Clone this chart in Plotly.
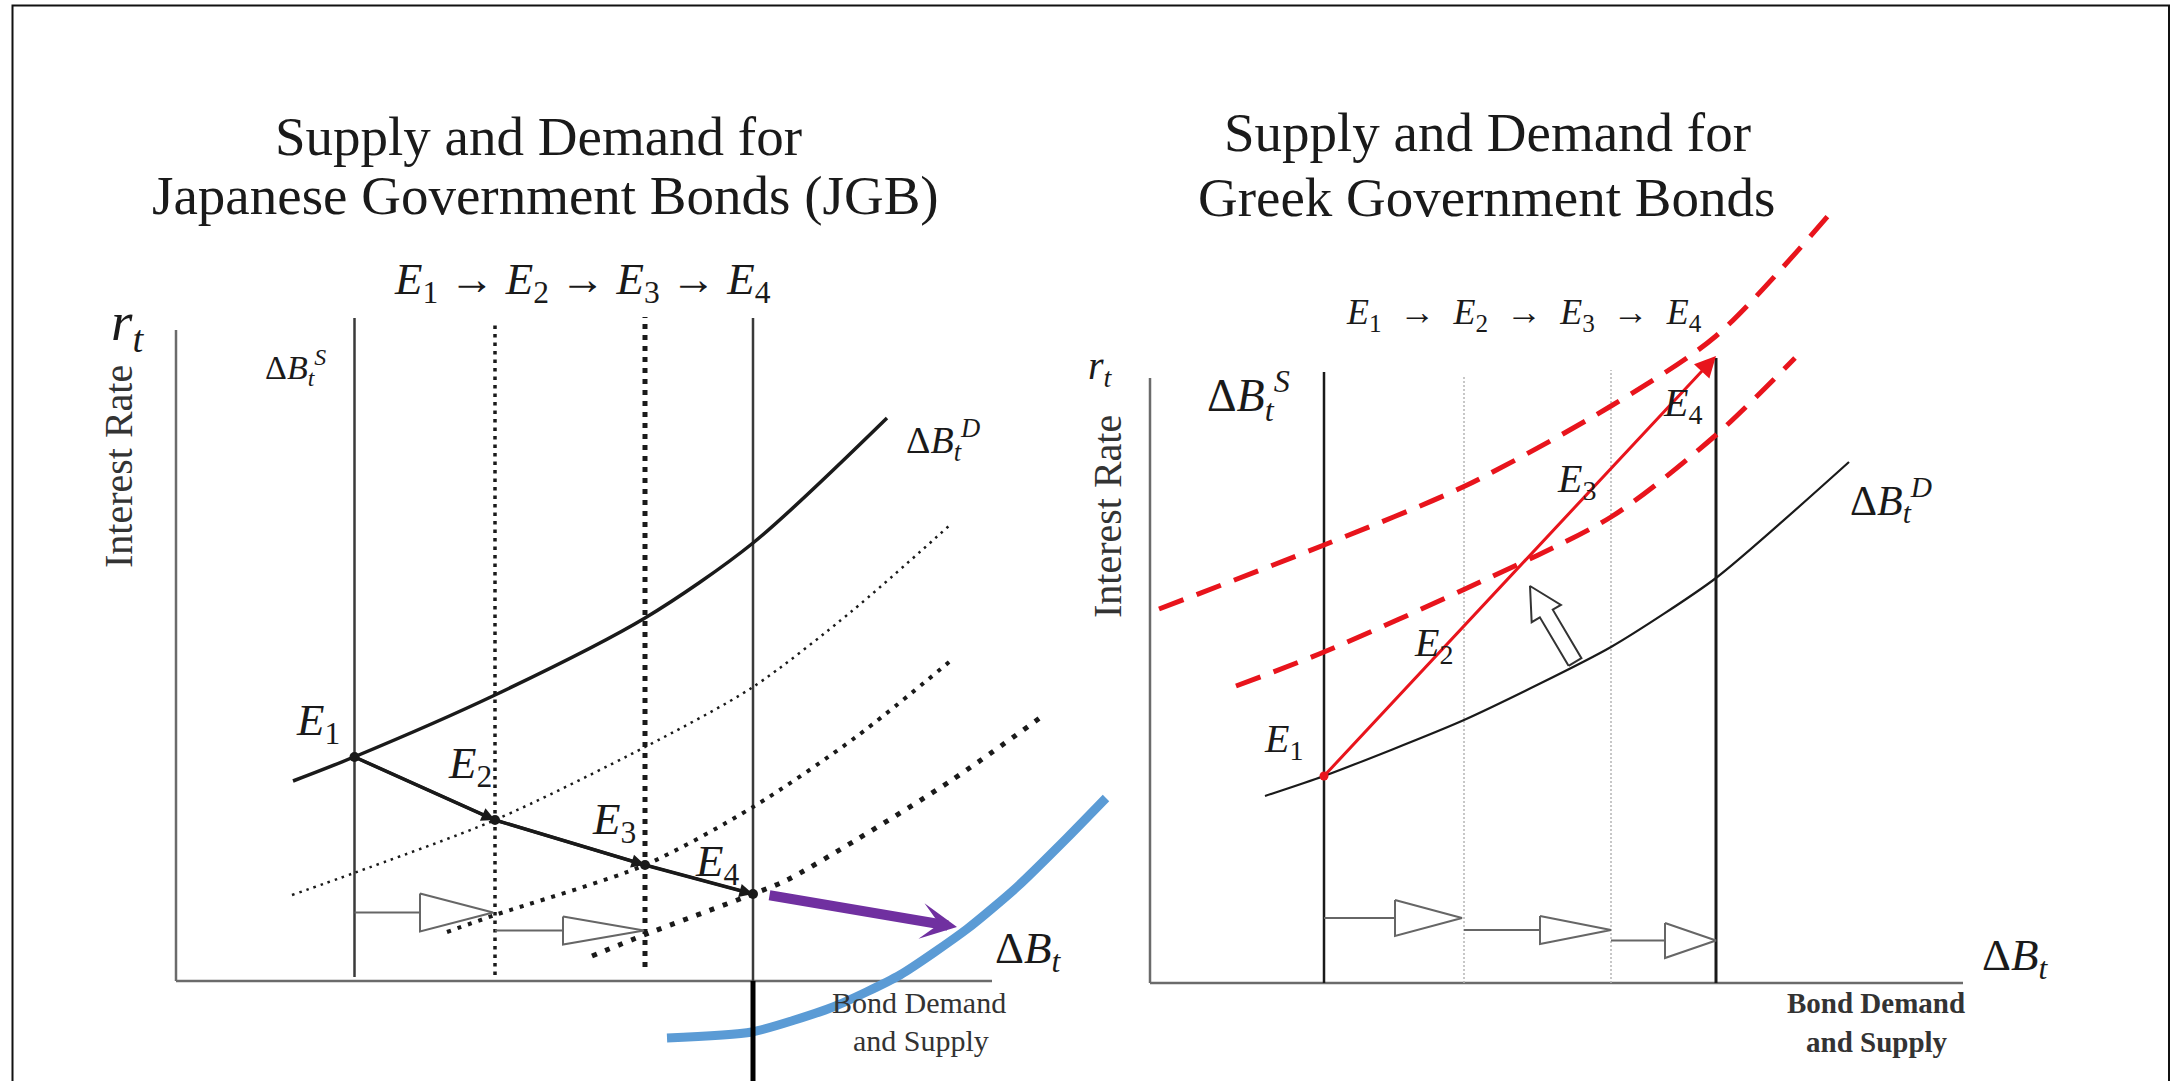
import numpy as np
import plotly.graph_objects as go

W, H = 2173, 1081
L_DOMAIN_PX = (0, 1120)     # pixel span of left panel's plotting area
R_DOMAIN_PX = (1060, 2173)  # pixel span of right panel's plotting area
PX_PER_UNIT = 100.0
L_ORIGIN_PX = (176, 981)    # axis corner of left panel (pixels)
R_ORIGIN_PX = (1150, 983)   # axis corner of right panel (pixels)

# ---------------- Left panel: Japanese Government Bonds ----------------
L_AXIS_Y_TOP = 6.51
L_AXIS_X_END = 8.16
L_SUPPLY_X = [1.785, 3.19, 4.69, 5.77]
L_SUPPLY_TOP = [6.63, 6.58, 6.64, 6.63]
L_SUPPLY_BOTTOM = [0.04, 0.06, 0.14, 0.0]
L_D1_X = [1.17, 1.78, 3.19, 4.69, 5.77, 7.11]
L_D1_Y = [2.00, 2.24, 2.86, 3.63, 4.38, 5.63]
L_D2_X = [1.16, 1.78, 3.19, 4.69, 5.77, 6.76, 7.74]
L_D2_Y = [0.86, 1.08, 1.61, 2.34, 2.94, 3.70, 4.56]
L_D3_X = [2.71, 3.19, 4.69, 5.77, 6.80, 7.78]
L_D3_Y = [0.49, 0.66, 1.16, 1.74, 2.44, 3.23]
L_D4_X = [4.16, 4.68, 5.77, 6.11, 6.80, 7.76, 8.68]
L_D4_Y = [0.25, 0.46, 0.87, 1.01, 1.41, 2.01, 2.66]
L_EQ_X = [1.785, 3.19, 4.69, 5.77]
L_EQ_Y = [2.24, 1.61, 1.16, 0.87]
L_SHIFT_FROM = [1.785, 3.19]
L_SHIFT_TO = [3.17, 4.68]
L_SHIFT_Y = [0.685, 0.505]
L_PURPLE_FROM = [5.92, 0.86]
L_PURPLE_TO = [7.81, 0.54]
L_ARC_X = [4.91, 5.76, 6.57, 7.24, 7.91, 8.41, 8.91, 9.30]
L_ARC_Y = [-0.57, -0.51, -0.26, 0.06, 0.52, 0.94, 1.43, 1.83]
L_MARK_X = [5.77, 5.77]
L_MARK_Y = [0.0, -1.0]

# ---------------- Right panel: Greek Government Bonds ----------------
R_AXIS_Y_TOP = 6.05
R_AXIS_X_END = 8.13
R_SUPPLY_X = [1.74, 3.14, 4.61, 5.66]
R_SUPPLY_TOP = [6.11, 6.06, 6.13, 6.25]
R_D_X = [1.15, 1.74, 3.14, 4.61, 5.66, 6.99]
R_D_Y = [1.87, 2.07, 2.63, 3.36, 4.05, 5.21]
R_DU_X = [0.09, 1.74, 3.15, 4.61, 5.66, 6.78]
R_DU_Y = [3.74, 4.38, 4.97, 5.77, 6.47, 7.67]
R_DM_X = [0.86, 1.74, 3.15, 4.61, 5.66, 6.45]
R_DM_Y = [2.97, 3.31, 3.94, 4.66, 5.48, 6.25]
R_PATH_FROM = [1.74, 2.07]
R_PATH_TO = [5.66, 6.27]
R_SHIFT_FROM = [1.74, 3.14, 4.61]
R_SHIFT_TO = [3.12, 4.61, 5.66]
R_SHIFT_Y = [0.65, 0.53, 0.425]
R_UP_FROM = [4.25, 3.21]
R_UP_TO = [3.80, 3.97]

# style constants for arrow heads (length, half width)
L_HEADS = [(0.73, 0.19), (0.81, 0.14)]
R_HEADS = [(0.67, 0.18), (0.71, 0.14), (0.51, 0.175)]

FONT = "Liberation Serif, Times New Roman, serif"
INK = "#1a1a1a"

fig = go.Figure()


def refs(panel):
    return ("x", "y") if panel == "L" else ("x2", "y2")


def line(xs, ys, panel, color=INK, width=2, dash="solid", shape="linear", mode="lines",
         marker=None, smoothing=0.8):
    ax, ay = refs(panel)
    kw = dict(x=xs, y=ys, xaxis=ax, yaxis=ay, mode=mode, hoverinfo="skip",
              line=dict(color=color, width=width, dash=dash, shape=shape, smoothing=smoothing))
    if marker:
        kw["marker"] = marker
    fig.add_trace(go.Scatter(**kw))


def hollow_h_arrow(x0, x1, y, head, panel, color="#666666"):
    hl, hw = head
    line([x0, x1 - hl], [y, y], panel, color=color, width=2)
    line([x1 - hl, x1, x1 - hl, x1 - hl], [y + hw, y, y - hw, y + hw], panel, color=color, width=2)


def block_arrow(p0, p1, panel, shaft=0.075, headw=0.17, headl=0.32):
    p0 = np.array(p0, float)
    p1 = np.array(p1, float)
    d = p1 - p0
    d = d / np.linalg.norm(d)
    n = np.array([-d[1], d[0]])
    b = p1 - d * headl
    pts = [p0 + n * shaft, b + n * shaft, b + n * headw, p1,
           b - n * headw, b - n * shaft, p0 - n * shaft, p0 + n * shaft]
    ax, ay = refs(panel)
    fig.add_trace(go.Scatter(x=[p[0] for p in pts], y=[p[1] for p in pts], xaxis=ax, yaxis=ay,
                             mode="lines", fill="toself", fillcolor="white",
                             line=dict(color="#333333", width=2), hoverinfo="skip"))


# ---- left panel ----
line([0, 0], [0, L_AXIS_Y_TOP], "L", color="#6b6b6b", width=2.5)
line([0, L_AXIS_X_END], [0, 0], "L", color="#6b6b6b", width=2.5)
line([L_SUPPLY_X[0]] * 2, [L_SUPPLY_BOTTOM[0], L_SUPPLY_TOP[0]], "L", color="#3a3a3a", width=2.5)
line([L_SUPPLY_X[1]] * 2, [L_SUPPLY_BOTTOM[1], L_SUPPLY_TOP[1]], "L", color=INK, width=3.5, dash="3.5px,5px")
line([L_SUPPLY_X[2]] * 2, [L_SUPPLY_BOTTOM[2], L_SUPPLY_TOP[2]], "L", color=INK, width=5, dash="5px,6px")
line([L_SUPPLY_X[3]] * 2, [L_SUPPLY_BOTTOM[3], L_SUPPLY_TOP[3]], "L", color="#3a3a3a", width=2.5)
line(L_D1_X, L_D1_Y, "L", width=3.5, shape="spline")
line(L_D2_X, L_D2_Y, "L", width=2.5, dash="2.5px,5px", shape="spline")
line(L_D3_X, L_D3_Y, "L", width=4, dash="4px,7px", shape="spline")
line(L_D4_X, L_D4_Y, "L", width=5, dash="5px,9px", shape="spline")
line(L_EQ_X, L_EQ_Y, "L", width=3.5, mode="lines+markers", marker=dict(size=10, color=INK))
for i in range(2):
    hollow_h_arrow(L_SHIFT_FROM[i], L_SHIFT_TO[i], L_SHIFT_Y[i], L_HEADS[i], "L")
line(L_ARC_X, L_ARC_Y, "L", color="#5b9bd5", width=9, shape="spline", smoothing=0.6)
line(L_MARK_X, L_MARK_Y, "L", color="#000000", width=5)

# ---- right panel ----
line([0, 0], [0, R_AXIS_Y_TOP], "R", color="#6b6b6b", width=2.5)
line([0, R_AXIS_X_END], [0, 0], "R", color="#6b6b6b", width=2.5)
line([R_SUPPLY_X[0]] * 2, [0, R_SUPPLY_TOP[0]], "R", color=INK, width=2.5)
line([R_SUPPLY_X[1]] * 2, [0, R_SUPPLY_TOP[1]], "R", color="#b5b5b5", width=1.5, dash="2px,2px")
line([R_SUPPLY_X[2]] * 2, [0, R_SUPPLY_TOP[2]], "R", color="#b5b5b5", width=1.5, dash="2px,2px")
line([R_SUPPLY_X[3]] * 2, [0, R_SUPPLY_TOP[3]], "R", color=INK, width=3)
line(R_D_X, R_D_Y, "R", width=2.2, shape="spline", smoothing=0.6)
line(R_DU_X, R_DU_Y, "R", color="#e8141c", width=5, dash="26px,14px", shape="spline")
line(R_DM_X, R_DM_Y, "R", color="#e8141c", width=5, dash="26px,14px", shape="spline")
for i in range(3):
    hollow_h_arrow(R_SHIFT_FROM[i], R_SHIFT_TO[i], R_SHIFT_Y[i], R_HEADS[i], "R")
block_arrow(R_UP_FROM, R_UP_TO, "R")
line([R_PATH_FROM[0]], [R_PATH_FROM[1]], "R", mode="markers", marker=dict(size=9, color="#e8141c"))

annotations = []


def arrow(p_from, p_to, panel, color, width, head, size):
    xr, yr = refs(panel)
    annotations.append(dict(x=p_to[0], y=p_to[1], ax=p_from[0], ay=p_from[1], xref=xr, yref=yr,
                            axref=xr, ayref=yr, text="", showarrow=True, arrowhead=head,
                            arrowsize=size, arrowwidth=width, arrowcolor=color, standoff=0,
                            startstandoff=0))


arrow(L_PURPLE_FROM, L_PURPLE_TO, "L", "#7030a0", 10, 3, 0.6)
arrow(R_PATH_FROM, R_PATH_TO, "R", "#e8141c", 3, 2, 1.4)
for i in range(1, 4):
    arrow([L_EQ_X[i - 1], L_EQ_Y[i - 1]], [L_EQ_X[i], L_EQ_Y[i]], "L", INK, 3, 2, 0.9)


def text(panel, x, y, s, size, xanchor="center", angle=0, color=INK):
    xr, yr = refs(panel)
    annotations.append(dict(x=x, y=y, xref=xr, yref=yr, text=s, showarrow=False,
                            xanchor=xanchor, yanchor="middle", textangle=angle,
                            font=dict(family=FONT, size=size, color=color)))


def Esub(k):
    return "<i>E</i><sub>%s</sub>" % k


SEQ = " \u2192 ".join(Esub(k) for k in "1234")
SEQ_R = "&nbsp;&nbsp;\u2192&nbsp;&nbsp;".join(Esub(k) for k in "1234")
DB = "\u0394<i>B</i><sub><i>t</i></sub>"

# left texts
text("L", 3.62, 8.45, "Supply and Demand for", 55)
text("L", 3.69, 7.86, "Japanese Government Bonds (JGB)", 55)
text("L", 4.06, 6.99, SEQ, 45)
text("L", -0.67, 6.56, "<i>r</i><sub><i>t</i></sub>", 55, xanchor="left")
text("L", -0.58, 5.14, "Interest Rate", 40, angle=-90, color="#333333")
text("L", 1.19, 6.14, DB + "<sup><i>S</i></sup>", 34)
text("L", 7.28, 5.41, DB + "<sup><i>D</i></sup>", 38, xanchor="left")
text("L", 1.42, 2.58, Esub(1), 45)
text("L", 2.94, 2.15, Esub(2), 45)
text("L", 4.38, 1.59, Esub(3), 45)
text("L", 5.41, 1.17, Esub(4), 45)
text("L", 8.52, 0.30, DB, 45)
text("L", 7.43, -0.21, "Bond Demand", 30, color="#333333")
text("L", 7.45, -0.59, "and Supply", 30, color="#333333")

# right texts
text("R", 3.37, 8.51, "Supply and Demand for", 55)
text("R", 3.365, 7.86, "Greek Government Bonds", 55)
text("R", 3.74, 6.69, SEQ_R, 36)
text("R", -0.64, 6.15, "<i>r</i><sub><i>t</i></sub>", 40, xanchor="left")
text("R", -0.43, 4.66, "Interest Rate", 40, angle=-90, color="#333333")
text("R", 0.98, 5.88, DB + "<sup><i>S</i></sup>", 46)
text("R", 6.98, 4.83, DB + "<sup><i>D</i></sup>", 42, xanchor="left")
text("R", 1.33, 2.42, Esub(1), 40)
text("R", 2.83, 3.38, Esub(2), 40)
text("R", 4.26, 5.02, Esub(3), 40)
text("R", 5.32, 5.78, Esub(4), 40)
text("R", 8.65, 0.25, DB, 45)
text("R", 7.26, -0.20, "<b>Bond Demand</b>", 29, color="#333333")
text("R", 7.27, -0.59, "<b>and Supply</b>", 29, color="#333333")


def axis_range(span_px, origin_px):
    return [(span_px[0] - origin_px) / PX_PER_UNIT, (span_px[1] - origin_px) / PX_PER_UNIT]


fig.update_layout(
    width=W, height=H, margin=dict(l=0, r=0, t=0, b=0),
    paper_bgcolor="white", plot_bgcolor="rgba(0,0,0,0)", showlegend=False, hovermode=False,
    xaxis=dict(domain=[L_DOMAIN_PX[0] / W, L_DOMAIN_PX[1] / W],
               range=axis_range(L_DOMAIN_PX, L_ORIGIN_PX[0]), visible=False, fixedrange=True),
    yaxis=dict(domain=[0, 1], range=[(L_ORIGIN_PX[1] - H) / PX_PER_UNIT, L_ORIGIN_PX[1] / PX_PER_UNIT],
               visible=False, fixedrange=True),
    xaxis2=dict(domain=[R_DOMAIN_PX[0] / W, R_DOMAIN_PX[1] / W],
                range=axis_range(R_DOMAIN_PX, R_ORIGIN_PX[0]), visible=False, anchor="y2", fixedrange=True),
    yaxis2=dict(domain=[0, 1], range=[(R_ORIGIN_PX[1] - H) / PX_PER_UNIT, R_ORIGIN_PX[1] / PX_PER_UNIT],
                visible=False, anchor="x2", fixedrange=True),
    annotations=annotations,
    shapes=[dict(type="rect", xref="paper", yref="paper", x0=12.5 / W, x1=2169 / W,
                 y0=-0.05, y1=1 - 5.5 / H, line=dict(color="#111111", width=2))],
)

fig.write_html("out.html", config={"displayModeBar": False, "staticPlot": True},
               post_script="document.body.style.margin='0';document.body.style.overflow='hidden';")
